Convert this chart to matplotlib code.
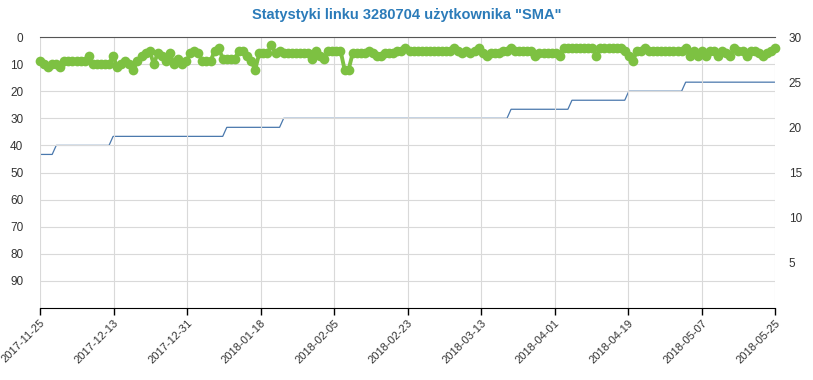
import matplotlib.pyplot as plt
import numpy as np

# ranking per day, 2017-11-25 .. 2018-05-25 (left axis, inverted)
rank = [9, 10, 11, 10, 10, 11, 9, 9, 9, 9,
        9, 9, 7, 10, 10, 10, 10, 10, 7, 11,
        10, 9, 10, 12, 9, 7, 6, 5, 10, 6,
        7, 9, 6, 10, 8, 10, 9, 6, 5, 6,
        9, 9, 9, 5, 4, 8, 8, 8, 8, 5,
        5, 7, 9, 12, 6, 6, 6, 3, 6, 5,
        6, 6, 6, 6, 6, 6, 6, 8, 5, 7,
        8, 5, 5, 5, 5, 12, 12, 6, 6, 6,
        6, 5, 6, 7, 7, 6, 6, 6, 5, 5,
        4, 5, 5, 5, 5, 5, 5, 5, 5, 5,
        5, 5, 4, 5, 6, 5, 6, 5, 4, 6,
        7, 6, 6, 6, 5, 5, 4, 5, 5, 5,
        5, 5, 7, 6, 6, 6, 6, 6, 7, 4,
        4, 4, 4, 4, 4, 4, 4, 7, 4, 4,
        4, 4, 4, 4, 5, 7, 9, 5, 5, 4,
        5, 5, 5, 5, 5, 5, 5, 5, 5, 4,
        7, 5, 7, 5, 7, 5, 5, 7, 5, 6,
        7, 4, 5, 5, 7, 5, 5, 6, 7, 6,
        5, 4]

# second series (right axis), breakpoints
blue_days = [0, 3, 4, 17, 18, 45, 46, 59, 60, 115, 116, 130, 131, 144, 145, 158, 159, 181]
blue_vals = [17, 17, 18, 18, 19, 19, 20, 20, 21, 21, 22, 22, 23, 23, 24, 24, 25, 25]

date_labels = ["2017-11-25", "2017-12-13", "2017-12-31", "2018-01-18", "2018-02-05",
               "2018-02-23", "2018-03-13", "2018-04-01", "2018-04-19", "2018-05-07",
               "2018-05-25"]

plt.rcParams['font.family'] = ['Liberation Sans', 'DejaVu Sans']

fig = plt.figure(figsize=(8.13, 3.8), dpi=100)
ax = fig.add_axes([40/813, 1 - 308/380, 735/813, 271/380])
ax2 = ax.twinx()

days = np.arange(len(rank))
ndays = 181

ax.set_xlim(0, ndays)
ax.set_ylim(100, 0)
ax.set_yticks(range(0, 100, 10))
ax.set_xticks(np.linspace(0, ndays, len(date_labels)))
ax.set_xticklabels(date_labels, rotation=45, ha='right', rotation_mode='anchor',
                   fontsize=8, color='#333333')
ax.tick_params(axis='y', length=0, pad=12, labelsize=8.5, labelcolor='#333333')
ax.tick_params(axis='x', length=5, width=1, color='black', pad=2)
ax.grid(True, color='#d9d9d9', linewidth=0.8)
ax.set_axisbelow(True)

for s in ['left', 'right']:
    ax.spines[s].set_visible(False)
    ax2.spines[s].set_visible(False)
ax.spines['top'].set_color('#555555')
ax.spines['bottom'].set_color('black')
ax2.spines['top'].set_visible(False)
ax2.spines['bottom'].set_visible(False)

ax2.set_ylim(0, 30)
ax2.set_yticks(range(5, 31, 5))
ax2.tick_params(axis='y', length=0, pad=10, labelsize=8.5, labelcolor='#333333')

ax2.plot(blue_days, blue_vals, color='#4a78ad', linewidth=0.9)
ax.plot(days, rank, color='#7dc142', linewidth=2.8, marker='o',
        markersize=7, markeredgewidth=0, zorder=5, clip_on=False)
ax.set_zorder(ax2.get_zorder() + 1)
ax.patch.set_visible(False)

fig.text(0.5, 1 - 15/380, 'Statystyki linku 3280704 użytkownika "SMA"',
         ha='center', va='center', fontsize=10.5, fontweight='bold',
         color='#2b7bb9', family=['Liberation Sans Narrow', 'Liberation Sans', 'DejaVu Sans'])

fig.savefig('out.png', dpi=100)
